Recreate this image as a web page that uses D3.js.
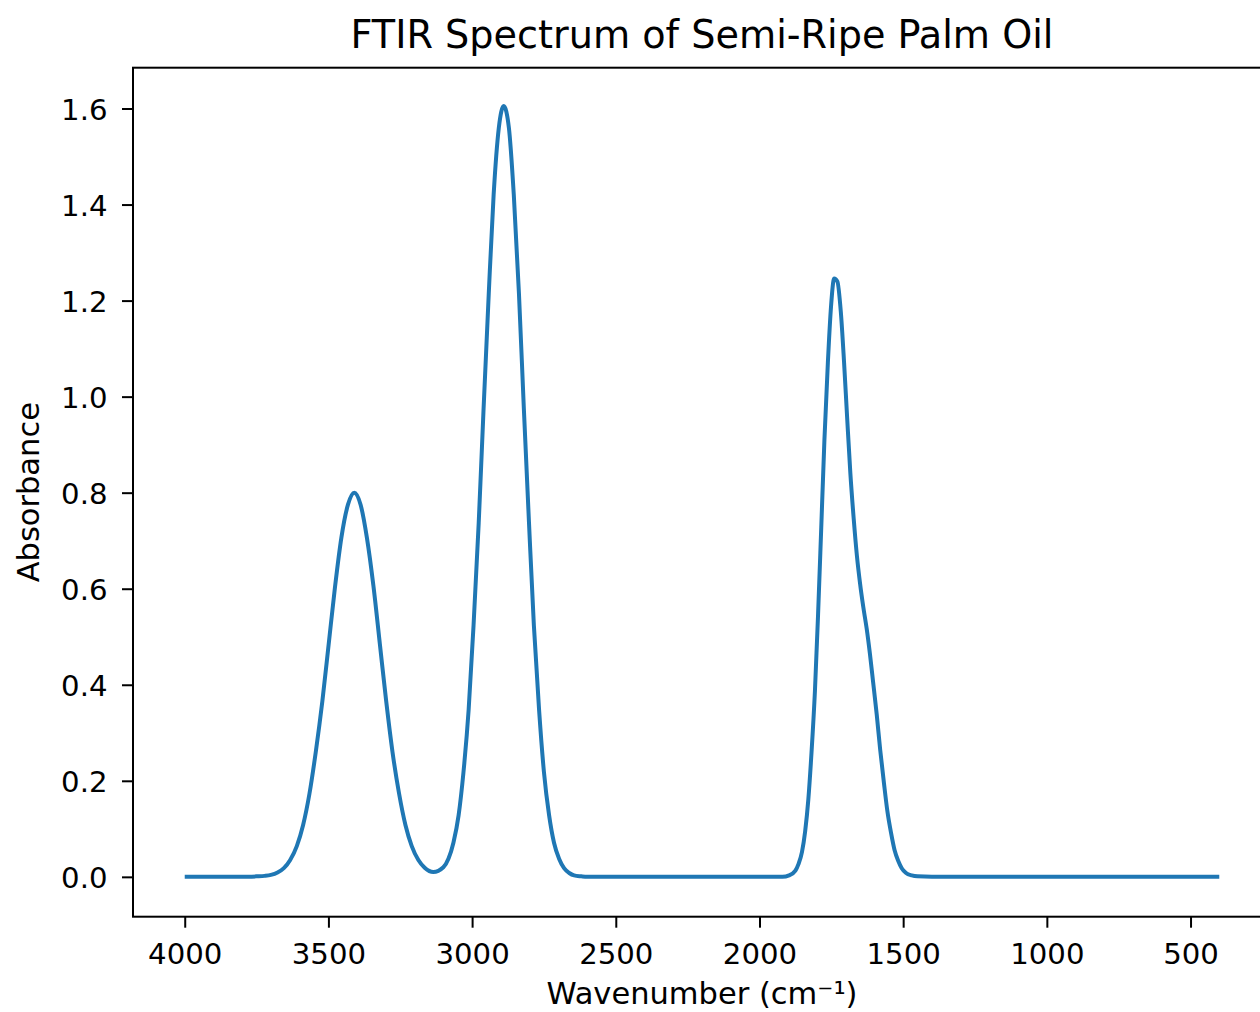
<!DOCTYPE html>
<html>
<head>
<meta charset="utf-8">
<script src="https://cdn.jsdelivr.net/npm/d3@7"></script>
<style>
  body { margin: 0; background: #fff; }
  svg { display: block; font-family: "DejaVu Sans", sans-serif; }
</style>
</head>
<body>
<svg id="chart" width="1260" height="1012"></svg>
<script>
// Spectrum: wavenumber (cm-1) and absorbance
const wavenumber = [
  4000, 3800, 3750, 3722, 3700, 3677, 3655, 3633, 3610, 3588, 3566, 3544, 3521, 3499, 3477, 3455, 3432,
  3410, 3388, 3366, 3343, 3321, 3299, 3277, 3254, 3232, 3210, 3187, 3165, 3135, 3100, 3082, 3065, 3047,
  3030, 3012, 2995, 2977, 2960, 2942, 2925, 2907, 2890, 2872, 2855, 2837, 2820, 2802, 2785, 2767, 2750,
  2732, 2715, 2697, 2680, 2662, 2645, 2620, 2600, 1950, 1920, 1897, 1875, 1864, 1852, 1841, 1830, 1819,
  1807, 1796, 1785, 1774, 1762, 1751, 1740, 1729, 1717, 1706, 1695, 1684, 1672, 1661, 1650, 1639, 1627,
  1616, 1605, 1592, 1580, 1567, 1555, 1542, 1530, 1517, 1505, 1490, 1470, 1450, 1400, 400
];
const absorbance = [
  0, 0, 0.001, 0.002, 0.004, 0.009, 0.018, 0.035, 0.064, 0.108, 0.173, 0.260, 0.366, 0.485, 0.604, 0.706, 0.775,
  0.800, 0.775, 0.706, 0.604, 0.485, 0.366, 0.260, 0.173, 0.108, 0.064, 0.035, 0.019, 0.010, 0.020, 0.038, 0.071, 0.128,
  0.218, 0.348, 0.523, 0.737, 0.976, 1.215, 1.421, 1.560, 1.605, 1.560, 1.421, 1.215, 0.976, 0.737, 0.523, 0.348, 0.218,
  0.128, 0.071, 0.037, 0.018, 0.008, 0.003, 0.001, 0, 0, 0, 0.003, 0.013, 0.027, 0.052, 0.095, 0.161, 0.258,
  0.387, 0.548, 0.728, 0.910, 1.071, 1.188, 1.246, 1.240, 1.177, 1.075, 0.957, 0.843, 0.745, 0.669, 0.611, 0.563, 0.517,
  0.466, 0.408, 0.338, 0.265, 0.196, 0.137, 0.091, 0.056, 0.033, 0.018, 0.008, 0.003, 0.001, 0, 0
];

const xTicks = [4000, 3500, 3000, 2500, 2000, 1500, 1000, 500];
const yTicks = [0.0, 0.2, 0.4, 0.6, 0.8, 1.0, 1.2, 1.4, 1.6];
const xLimits = [4180, 220];
const yLimits = [-0.083, 1.685];

const titleText = "FTIR Spectrum of Semi-Ripe Palm Oil";
const xLabel = "Wavenumber (cm\u207B\u00B9)";
const yLabel = "Absorbance";

const spectrum = wavenumber.map((w, i) => ({ w: w, a: absorbance[i] }));

// Layout (axes box runs past the right edge, as in the reference)
const svg = d3.select("#chart");
const box = { left: 133, right: 1271, top: 67.7, bottom: 916.7 };
const fontFamily = "DejaVu Sans";
const tickFont = 29.2;
const labelFont = 30.5;

const x = d3.scaleLinear().domain(xLimits).range([box.left, box.right]);
const y = d3.scaleLinear().domain(yLimits).range([box.bottom, box.top]);

// Line
const line = d3.line()
  .x(d => x(d.w))
  .y(d => y(d.a))
  .curve(d3.curveMonotoneX);

svg.append("path")
  .datum(spectrum)
  .attr("d", line)
  .attr("fill", "none")
  .attr("stroke", "#1f77b4")
  .attr("stroke-width", 4)
  .attr("stroke-linejoin", "round")
  .attr("stroke-linecap", "butt");

// Axes
const xAxis = svg.append("g")
  .attr("transform", `translate(0, ${box.bottom})`)
  .call(d3.axisBottom(x).tickValues(xTicks).tickSize(11).tickSizeOuter(0).tickFormat(d3.format("d")))
  .attr("font-family", fontFamily)
  .attr("font-size", tickFont);
xAxis.select(".domain").remove();
xAxis.selectAll("line").attr("stroke", "#000").attr("stroke-width", 2);
xAxis.selectAll("text")
  .attr("y", 47).attr("dy", null)
  .attr("fill", "#000");

const yAxis = svg.append("g")
  .attr("transform", `translate(${box.left}, 0)`)
  .call(d3.axisLeft(y).tickValues(yTicks).tickSize(11).tickPadding(14.5).tickSizeOuter(0).tickFormat(d3.format(".1f")))
  .attr("font-family", fontFamily)
  .attr("font-size", tickFont);
yAxis.select(".domain").remove();
yAxis.selectAll("line").attr("stroke", "#000").attr("stroke-width", 2);
yAxis.selectAll("text")
  .attr("dy", "0.36em")
  .attr("fill", "#000");

// Frame
svg.append("rect")
  .attr("x", box.left).attr("y", box.top)
  .attr("width", box.right - box.left).attr("height", box.bottom - box.top)
  .attr("fill", "none")
  .attr("stroke", "#000")
  .attr("stroke-width", 2);

// Labels
svg.append("text")
  .attr("x", (box.left + box.right) / 2)
  .attr("y", 48)
  .attr("text-anchor", "middle")
  .style("font-size", "38.2px")
  .text(titleText);

svg.append("text")
  .attr("x", (box.left + box.right) / 2)
  .attr("y", 1004)
  .attr("text-anchor", "middle")
  .style("font-size", labelFont + "px")
  .text(xLabel);

svg.append("text")
  .attr("transform", `translate(39, ${(box.top + box.bottom) / 2}) rotate(-90)`)
  .attr("text-anchor", "middle")
  .style("font-size", labelFont + "px")
  .text(yLabel);
</script>
</body>
</html>
